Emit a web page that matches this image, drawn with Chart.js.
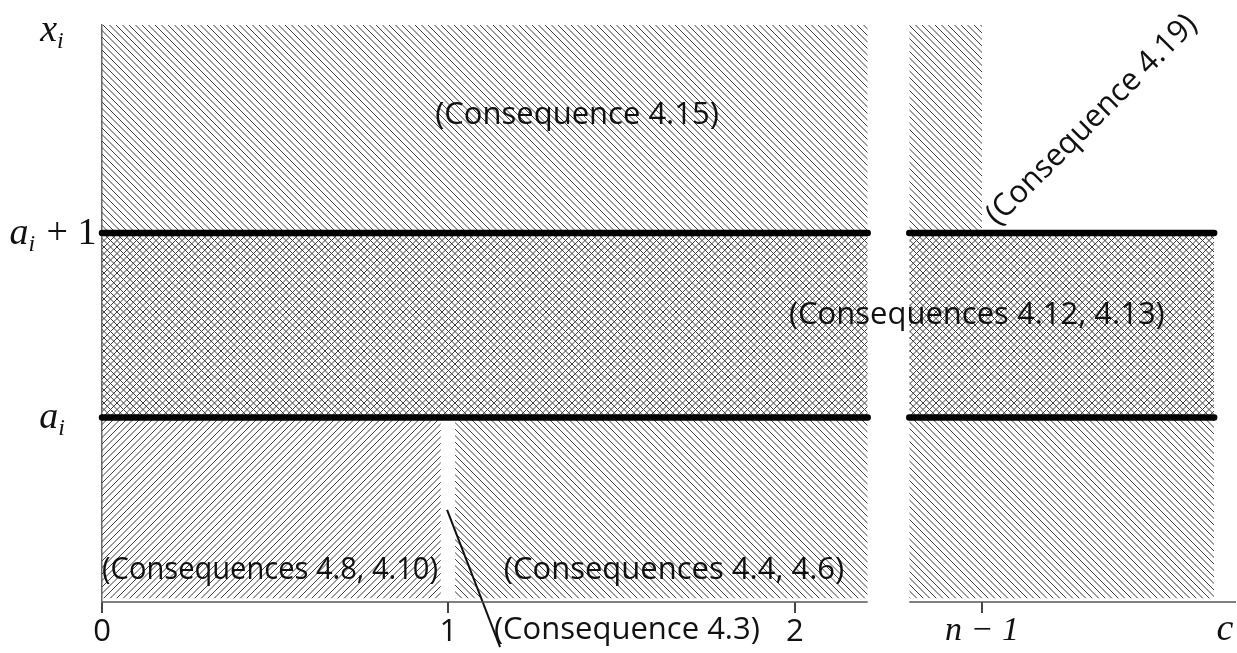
<!DOCTYPE html>
<html>
<head>
<meta charset="utf-8">
<script src="https://cdn.jsdelivr.net/npm/chart.js@4.4.1/dist/chart.umd.min.js"></script>
<style>
  html, body { margin: 0; padding: 0; background: #fff; }
  #wrap { width: 1237px; height: 653px; }
</style>
</head>
<body>
<div id="wrap"><canvas id="myChart" width="1237" height="653"></canvas></div>
<script>
// y levels: axis, a_i, a_i + 1, top of the picture
const levels = [0, 1, 2, 3.127];
const hatchFloor = 0.02;
// x ranges of the two panels (the axis is broken between them)
const leftPanel = [0, 2.21];
const rightPanel = [2.33, 3.21];
const axisEnd = 3.273;
const gapAtOne = [0.978, 1.019];
const nMinus1 = 2.54;

const xTicks = [0, 1, 2, nMinus1];
const xTickLabels = ['0', '1', '2', 'n − 1'];

// y labels: main letter, subscript, rest
const yLabelValues = [1, 2, 3.1];
const yLabelMain = ['a', 'a', 'x'];
const yLabelSub = ['i', 'i', 'i'];
const yLabelRest = ['', ' + 1', ''];

const notes = ['(Consequence 4.15)', '(Consequences 4.12, 4.13)', '(Consequences 4.8, 4.10)',
               '(Consequences 4.4, 4.6)', '(Consequence 4.3)', '(Consequence 4.19)'];
const noteX = [1.371, 2.525, 0.485, 1.651, 1.515, 2.857];
const noteY = [2.64, 1.556, 0.173, 0.173, -0.152, 2.612];
const noteAngle = [0, 0, 0, 0, 0, -45];

const leaderX = [0.996, 1.149];
const leaderY = [0.499, -0.244];

function makePattern(kind) {
    const T = 13, step = 6.5;
    const c = document.createElement('canvas');
    c.width = T; c.height = T;
    const g = c.getContext('2d');
    g.strokeStyle = '#3c3c3c';
    g.lineWidth = 1;
    const back = () => {
        for (let o = -2 * T; o <= 2 * T; o += step) {
            g.beginPath(); g.moveTo(o, 0); g.lineTo(o + T, T); g.stroke();
        }
    };
    const fwd = () => {
        for (let o = -2 * T; o <= 2 * T; o += step) {
            g.beginPath(); g.moveTo(o, T); g.lineTo(o + T, 0); g.stroke();
        }
    };
    if (kind === 'back' || kind === 'cross') back();
    if (kind === 'fwd' || kind === 'cross') fwd();
    return g.createPattern(c, 'repeat');
}

const backHatch = makePattern('back');
const fwdHatch = makePattern('fwd');
const crossHatch = makePattern('cross');

function rect(xs, ys, pattern) {
    return {
        type: 'line',
        data: [{ x: xs[0], y: ys[1] }, { x: xs[1], y: ys[1] }],
        fill: { value: ys[0] },
        backgroundColor: pattern,
        borderColor: 'transparent',
        borderWidth: 0,
        pointRadius: 0,
        order: 2
    };
}

function brokenLine(yv, rightEnd, width, color, cap) {
    return {
        type: 'line',
        data: [{ x: leftPanel[0], y: yv }, { x: leftPanel[1], y: yv },
               { x: (leftPanel[1] + rightPanel[0]) / 2, y: null },
               { x: rightPanel[0], y: yv }, { x: rightEnd, y: yv }],
        spanGaps: false,
        borderColor: color,
        borderWidth: width,
        borderCapStyle: cap,
        pointRadius: 0,
        fill: false,
        clip: false,
        order: 0
    };
}

const datasets = [
    brokenLine(levels[2], rightPanel[1], 6.5, '#000', 'round'),
    brokenLine(levels[1], rightPanel[1], 6.5, '#000', 'round'),
    brokenLine(levels[0], axisEnd, 1.5, '#555', 'butt'),
    {
        type: 'line',
        data: leaderX.map((v, i) => ({ x: v, y: leaderY[i] })),
        borderColor: '#111',
        borderWidth: 2,
        pointRadius: 0,
        fill: false,
        clip: false,
        order: 0
    },
    rect(leftPanel, [levels[2], levels[3]], backHatch),
    rect([rightPanel[0], nMinus1], [levels[2], levels[3]], backHatch),
    rect(leftPanel, [levels[1], levels[2]], crossHatch),
    rect(rightPanel, [levels[1], levels[2]], crossHatch),
    rect([leftPanel[0], gapAtOne[0]], [hatchFloor, levels[1]], fwdHatch),
    rect([gapAtOne[1], leftPanel[1]], [hatchFloor, levels[1]], backHatch),
    rect(rightPanel, [hatchFloor, levels[1]], backHatch)
];

const serif = '"Liberation Serif", "Times New Roman", serif';
const sans = '"Open Sans", "Noto Sans", sans-serif';

const overlay = {
    id: 'overlay',
    afterDraw(chart) {
        const { ctx, scales: { x, y } } = chart;
        ctx.save();
        ctx.fillStyle = '#111';
        ctx.font = '31px ' + sans;
        ctx.textAlign = 'center';
        ctx.textBaseline = 'middle';
        notes.forEach((t, i) => {
            ctx.save();
            ctx.translate(x.getPixelForValue(noteX[i]), y.getPixelForValue(noteY[i]));
            ctx.rotate(noteAngle[i] * Math.PI / 180);
            // the bottom-left note has to stay between the axis and the gap at 1
            if (i === 2) ctx.fillText(t, 0, 0, 336);
            else ctx.fillText(t, 0, 0);
            ctx.restore();
        });

        // y labels with subscripts
        ctx.textAlign = 'left';
        ctx.textBaseline = 'alphabetic';
        const mainFont = 'italic 38px ' + serif;
        const subFont = 'italic 24px ' + serif;
        const restFont = '38px ' + serif;
        yLabelValues.forEach((v, i) => {
            ctx.font = mainFont; const w1 = ctx.measureText(yLabelMain[i]).width;
            ctx.font = subFont; const w2 = ctx.measureText(yLabelSub[i]).width;
            ctx.font = restFont; const w3 = ctx.measureText(yLabelRest[i]).width;
            let px = 52 - (w1 + w2 + w3) / 2;
            const base = y.getPixelForValue(v) + 11;
            ctx.font = mainFont; ctx.fillText(yLabelMain[i], px, base); px += w1;
            ctx.font = subFont; ctx.fillText(yLabelSub[i], px, base + 7); px += w2;
            ctx.font = restFont; ctx.fillText(yLabelRest[i], px + 2, base);
        });

        // axis name c at the end of the x axis
        ctx.font = 'italic 38px ' + serif;
        ctx.textAlign = 'center';
        ctx.fillText('c', 1225, 640);
        ctx.restore();
    }
};

new Chart(document.getElementById('myChart').getContext('2d'), {
    type: 'line',
    data: { datasets: datasets },
    options: {
        responsive: false,
        animation: false,
        events: [],
        layout: { padding: { top: 25, right: 1, left: 0, bottom: 0 } },
        plugins: { legend: { display: false }, tooltip: { enabled: false } },
        scales: {
            x: {
                type: 'linear',
                min: 0,
                max: axisEnd,
                afterBuildTicks: s => { s.ticks = xTicks.map(v => ({ value: v })); },
                afterFit: s => { s.height = 51; },
                ticks: {
                    autoSkip: false,
                    maxRotation: 0,
                    padding: 1,
                    color: '#111',
                    callback: v => xTickLabels[xTicks.indexOf(v)],
                    font: c => (c.tick && c.tick.value === nMinus1)
                        ? { family: serif, style: 'italic', size: 34, lineHeight: 1.0 }
                        : { family: sans, size: 31 }
                },
                grid: { display: true, drawOnChartArea: false, drawTicks: true, tickLength: 11, color: '#444', lineWidth: 2 },
                border: { display: false }
            },
            y: {
                type: 'linear',
                min: 0,
                max: levels[3],
                afterFit: s => { s.width = 102; },
                ticks: { display: false },
                grid: { display: false },
                border: { display: true, color: '#666', width: 1.5 }
            }
        }
    },
    plugins: [overlay]
});
</script>
</body>
</html>
